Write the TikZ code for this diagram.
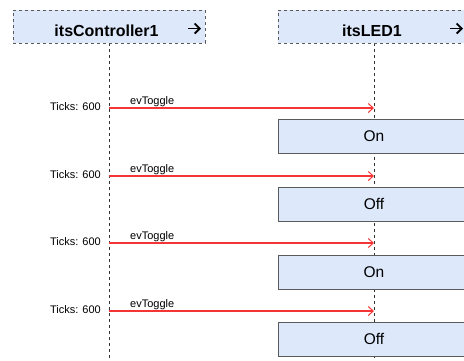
\documentclass[tikz,border=0pt]{standalone}
\usepackage{fontspec}
\setmainfont{Liberation Sans}
\usetikzlibrary{arrows.meta}
\definecolor{boxfill}{HTML}{DDE8FB}
\definecolor{boxline}{HTML}{5A5A5A}
\definecolor{msgred}{HTML}{F53535}
\tikzset{
  x=1pt, y=-1pt,
  lifehead/.style={draw=boxline, dashed, fill=boxfill, line width=0.9pt,
    minimum width=192pt, minimum height=33pt, inner sep=0pt},
  headtext/.style={font=\fontsize{16}{18}\selectfont\bfseries, anchor=base, inner sep=0pt},
  lifeline/.style={draw=black!80, dashed, line width=0.8pt},
  statebox/.style={draw=boxline, fill=boxfill, line width=0.9pt,
    minimum width=192pt, minimum height=34pt, inner sep=0pt,
    font=\fontsize{15.5}{17}\selectfont},
  msg/.style={color=msgred, line width=1.1pt, -{Straight Barb[length=5pt,width=9pt,line width=1pt]}},
  ticks/.style={font=\fontsize{11}{12}\selectfont, anchor=base east, inner sep=0pt},
  msglabel/.style={font=\fontsize{11}{12}\selectfont, anchor=base west, inner sep=0pt},
  headicon/.style={draw=black, line width=1.8pt,
    -{Straight Barb[length=5pt,width=10pt,line width=1.8pt]}}
}
\begin{document}
\begin{tikzpicture}
\useasboundingbox (0,0) rectangle (464,360);
\clip (0,0) rectangle (464,360);

% lifelines
\draw[lifeline] (109,43) -- (109,362);
\draw[lifeline] (374,43) -- (374,362);

% lifeline headers with their arrow icons
\node[lifehead] (ctrl) at (109,26.5) {};
\node[headtext] (ctrlname) at (106.5,36.7) {itsController1};
\coordinate (ca0) at (188,28.5);  \coordinate (ca1) at (201,28.5);
\draw[headicon] (ca0) -- (ca1);
\node[lifehead] (led) at (374,26.5) {};
\node[headtext] (ledname) at (372,36.7) {itsLED1};
\coordinate (la0) at (450,28.5);  \coordinate (la1) at (463,28.5);
\draw[headicon] (la0) -- (la1);

% messages: send point on the controller, receive point on the LED
\coordinate (s1) at (109,108);  \coordinate (r1) at (374,108);
\coordinate (s2) at (109,176);  \coordinate (r2) at (374,176);
\coordinate (s3) at (109,243);  \coordinate (r3) at (374,243);
\coordinate (s4) at (109,311);  \coordinate (r4) at (374,311);
\foreach \i in {1,...,4}{
  \draw[msg] (s\i) -- (r\i);
  \node[ticks] (t\i) at ([xshift=-8pt,yshift=-2.7pt]s\i) {Ticks: 600};
  \node[msglabel] (m\i) at ([xshift=21pt,yshift=3.3pt]s\i) {evToggle};
}

% state boxes on the LED lifeline
\node[statebox] (st1) at (374,136) {On};
\node[statebox] (st2) at (374,204) {Off};
\node[statebox] (st3) at (374,272) {On};
\node[statebox] (st4) at (374,339) {Off};
\end{tikzpicture}
\end{document}
